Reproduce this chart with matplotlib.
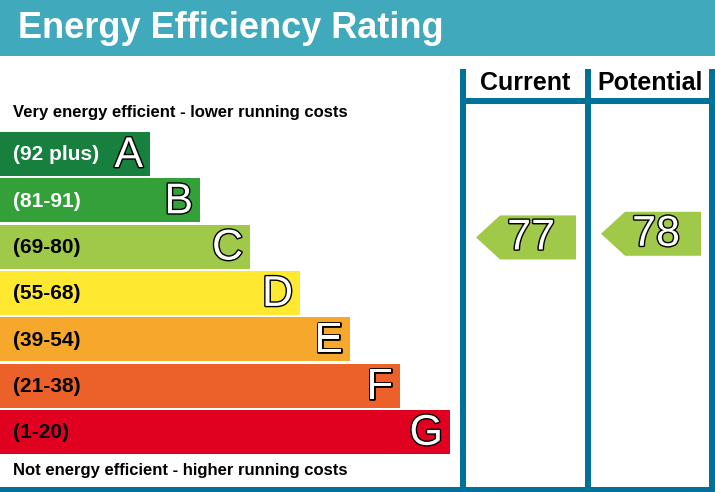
import numpy as np
import matplotlib.pyplot as plt
import matplotlib.patheffects as pe
from matplotlib.patches import Rectangle, Polygon

# rating bands
letters = ["A", "B", "C", "D", "E", "F", "G"]
ranges = ["(92 plus)", "(81-91)", "(69-80)", "(55-68)", "(39-54)", "(21-38)", "(1-20)"]
lows = [92, 81, 69, 55, 39, 21, 1]
highs = [100, 91, 80, 68, 54, 38, 20]
band_colors = ["#17803f", "#33a03a", "#a0c94a", "#ffe930", "#f5a82b", "#eb6129", "#e00020"]
label_colors = ["white", "white", "black", "black", "black", "black", "black"]

current_rating = 77
potential_rating = 78

title = "Energy Efficiency Rating"
top_note = "Very energy efficient - lower running costs"
bottom_note = "Not energy efficient - higher running costs"
col_titles = ["Current", "Potential"]

W, H = 715, 492
fig = plt.figure(figsize=(W / 100, H / 100), dpi=100)
ax = fig.add_axes([0, 0, 1, 1])
ax.set_xlim(0, W)
ax.set_ylim(H, 0)
ax.axis("off")

font = "Liberation Sans"
line_col = "#00729a"
outline = [pe.withStroke(linewidth=2.0, foreground="black")]

# header band
ax.add_patch(Rectangle((0, 0), W, 56, color="#40a9bb", lw=0))
ax.text(18, 28, title, color="white", fontsize=26, fontweight="bold",
        family=font, va="center", ha="left")

ax.text(13, 112, top_note, fontsize=12, fontweight="bold", family=font, va="center")
ax.text(13, 470, bottom_note, fontsize=12, fontweight="bold", family=font, va="center")

# bands
band_top = 132
band_h = 44
band_step = 46.3
band_pos = {}
for i, (let, rng) in enumerate(zip(letters, ranges)):
    y0 = band_top + i * band_step
    x1 = 150 + 50 * i
    band_pos[let] = (y0, y0 + band_h)
    ax.add_patch(Rectangle((0, y0), x1, band_h, color=band_colors[i], lw=0))
    ax.text(13, y0 + band_h / 2 + 1, rng, color=label_colors[i], fontsize=15,
            fontweight="bold", family=font, va="center")
    ax.text(x1 - 7, y0 + band_h / 2 + 2, let, color="white", fontsize=31,
            family=font, va="center", ha="right", path_effects=outline)

# column frame
ax.add_patch(Rectangle((460, 69), 6, H - 69, color=line_col, lw=0))
ax.add_patch(Rectangle((585, 69), 6, H - 69, color=line_col, lw=0))
ax.add_patch(Rectangle((709, 69), 6, H - 69, color=line_col, lw=0))
ax.add_patch(Rectangle((460, 98), W - 460, 6, color=line_col, lw=0))
ax.add_patch(Rectangle((0, 487), W, 5, color=line_col, lw=0))
ax.text(525.5, 83.5, col_titles[0], fontsize=18, fontweight="bold", family=font,
        ha="center", va="center")
ax.text(650, 83.5, col_titles[1], fontsize=18, fontweight="bold", family=font,
        ha="center", va="center")


def band_of(score):
    for i in range(len(letters)):
        if lows[i] <= score <= highs[i]:
            return i
    return len(letters) - 1


def arrow(x_tip, score):
    i = band_of(score)
    y0, y1 = band_pos[letters[i]]
    yc = y0 + (highs[i] - score + 0.5) / (highs[i] - lows[i] + 1) * (y1 - y0)
    h = 44
    pts = [(x_tip, yc), (x_tip + 24, yc - h / 2), (x_tip + 100, yc - h / 2),
           (x_tip + 100, yc + h / 2), (x_tip + 24, yc + h / 2)]
    ax.add_patch(Polygon(pts, closed=True, color=band_colors[i], lw=0))
    ax.text(x_tip + 55, yc + 1, str(score), color="white", fontsize=31,
            family=font, ha="center", va="center", path_effects=outline)


arrow(476, current_rating)
arrow(601, potential_rating)

fig.savefig("out.png", dpi=100)
